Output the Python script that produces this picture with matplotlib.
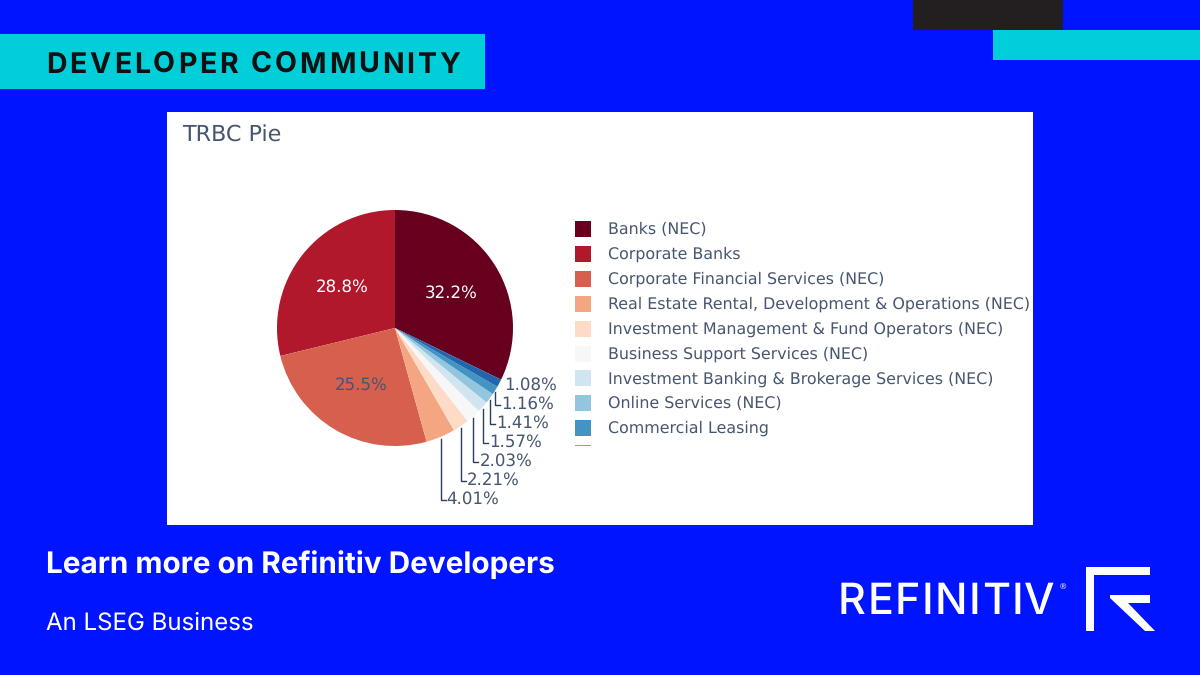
import numpy as np
import matplotlib
matplotlib.use("Agg")
import matplotlib.pyplot as plt
from matplotlib.patches import Rectangle, Polygon
from matplotlib.font_manager import FontProperties
from matplotlib.textpath import TextPath

plt.rcParams["text.hinting"] = "no_hinting"

# values, in legend order
sectors = ["Banks (NEC)", "Corporate Banks", "Corporate Financial Services (NEC)",
           "Real Estate Rental, Development & Operations (NEC)",
           "Investment Management & Fund Operators (NEC)",
           "Business Support Services (NEC)",
           "Investment Banking & Brokerage Services (NEC)",
           "Online Services (NEC)", "Commercial Leasing", "Other"]
shares = [32.2, 28.8, 25.5, 4.01, 2.21, 2.03, 1.57, 1.41, 1.16, 1.08]
pct_labels = ["32.2%", "28.8%", "25.5%", "4.01%", "2.21%", "2.03%", "1.57%", "1.41%", "1.16%", "1.08%"]
colors = ["#67001f", "#b2182b", "#d6604d", "#f4a582", "#fddbc7",
          "#f7f7f7", "#d1e5f0", "#92c5de", "#4393c3", "#2166ac"]

BLUE = "#0014FF"
CYAN = "#00CED8"
INK = "#46566F"

W, H = 1200, 675
CX, CY, R = 395, 328, 118


def tracked_text(a, x, y, s, size, tracking, weight, color):
    # matplotlib has no letter spacing, so place the letters one by one
    fp = FontProperties(family="Inter", weight=weight, size=size)
    dot = TextPath((0, 0), ".", prop=fp).get_extents().x1
    for i, ch in enumerate(s):
        adv = TextPath((0, 0), s[:i] + ".", prop=fp).get_extents().x1 - dot
        a.text(x + adv * 100 / 72 + i * tracking, y, ch, fontproperties=fp, va="baseline", color=color)


fig = plt.figure(figsize=(W / 100, H / 100), dpi=100, facecolor=BLUE)

# page axes in pixel coordinates
ax = fig.add_axes([0, 0, 1, 1], zorder=0)
ax.set_xlim(0, W)
ax.set_ylim(H, 0)
ax.axis("off")

ax.add_patch(Rectangle((913, 0), 150, 30, color="#231F20", lw=0))
ax.add_patch(Rectangle((993, 30), 207, 30, color=CYAN, lw=0))
ax.add_patch(Rectangle((0, 34), 485, 55, color=CYAN, lw=0))
ax.add_patch(Rectangle((167, 112), 866, 413, color="white", lw=0))

tracked_text(ax, 46, 73, "DEVELOPER COMMUNITY", 20.5, 2.9, "bold", "#111111")
ax.text(46, 565, "Learn more on Refinitiv Developers", fontsize=21.4, fontweight="bold", family="Inter",
        color="white", va="center")
ax.text(46, 623, "An LSEG Business", fontsize=17.3, family="Inter", color="white", va="center")
tracked_text(ax, 838, 614, "REFINITIV", 31, 1.4, "medium", "white")
ax.text(1059, 587, "®", fontsize=6, color="white", va="center")

# logo mark
ax.add_patch(Polygon([(1086, 567), (1150, 567), (1150, 575), (1094, 575), (1094, 631), (1086, 631)],
                     color="white", lw=0))
ax.add_patch(Polygon([(1110, 595), (1150, 595), (1150, 603), (1128, 603), (1155, 631), (1145, 631), (1110, 598)],
                     color="white", lw=0))

ax.text(182, 136, "TRBC Pie", fontsize=16, color=INK, va="center")

# pie, first slice ends at twelve o'clock and slices run counter-clockwise
start = 90 - shares[0] / sum(shares) * 360
pie_ax = fig.add_axes([(CX - R) / W, 1 - (CY + R) / H, 2 * R / W, 2 * R / H], zorder=1)
pie_ax.pie(shares, colors=colors, startangle=start, counterclock=True, radius=1,
           wedgeprops={"linewidth": 0})
pie_ax.set_xlim(-1, 1)
pie_ax.set_ylim(-1, 1)

# labels go on a second page axes above the pie
top = fig.add_axes([0, 0, 1, 1], zorder=2)
top.set_xlim(0, W)
top.set_ylim(H, 0)
top.axis("off")

edges = start + np.cumsum([0] + shares) / sum(shares) * 360
mids = np.radians((edges[:-1] + edges[1:]) / 2)

# big slices get inside labels
for i, col in zip(range(3), ["white", "white", INK]):
    top.text(CX + 0.565 * R * np.cos(mids[i]), CY - 0.565 * R * np.sin(mids[i]), pct_labels[i],
             color=col, fontsize=12, ha="center", va="center")

# small slices get outside labels with elbow leaders
label_rows = {3: 499.5, 4: 480.5, 5: 461.5, 6: 442.5, 7: 423.5, 8: 404.5, 9: 385.5}
for i, ly in label_rows.items():
    x0 = CX + R * np.cos(mids[i])
    y0 = CY - R * np.sin(mids[i])
    if i == 9:
        top.text(504, ly, pct_labels[i], color=INK, fontsize=12, va="center")
        continue
    top.plot([x0, x0, x0 + 5], [y0 + 2, ly, ly], color="#2a3f5f", lw=1, solid_joinstyle="miter")
    top.text(x0 + 6, ly, pct_labels[i], color=INK, fontsize=12, va="center")

# legend, cut off after nine rows like in the screenshot
for i, name in enumerate(sectors[:9]):
    y = 229 + i * 24.9
    top.add_patch(Rectangle((575, y - 8), 16, 16, color=colors[i], lw=0))
    top.text(608, y + 0.5, name, color=INK, fontsize=11.4, va="center")
top.add_patch(Rectangle((575, 444.5), 16, 1.2, color=colors[9], lw=0, alpha=0.6))

fig.savefig("out.png", dpi=100, facecolor=BLUE)
